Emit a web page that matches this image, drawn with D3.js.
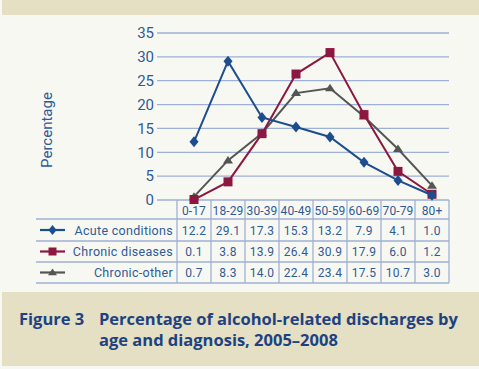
<!DOCTYPE html>
<html>
<head>
<meta charset="utf-8">
<script src="https://cdn.jsdelivr.net/npm/d3@7"></script>
<style>
  html, body { margin: 0; padding: 0; background: #f8f8f2; }
  svg { display: block; }
</style>
</head>
<body>
<svg id="chart" width="479" height="369"></svg>
<script>
// Age groups and the three diagnosis series (percent)
const ageGroups = ['0-17', '18-29', '30-39', '40-49', '50-59', '60-69', '70-79', '80+'];
const acute = [12.2, 29.1, 17.3, 15.3, 13.2, 7.9, 4.1, 1.0];
const chronicDiseases = [0.1, 3.8, 13.9, 26.4, 30.9, 17.9, 6.0, 1.2];
const chronicOther = [0.7, 8.3, 14.0, 22.4, 23.4, 17.5, 10.7, 3.0];
const yTicks = [0, 5, 10, 15, 20, 25, 30, 35];

const series = [
    { name: 'Acute conditions', values: acute, color: '#1c4d8f', marker: 'diamond' },
    { name: 'Chronic diseases', values: chronicDiseases, color: '#8c1741', marker: 'square' },
    { name: 'Chronic-other', values: chronicOther, color: '#555555', marker: 'triangle' }
];

const W = 479, H = 369;
const textBlue = '#2f5a98';
const lineBlue = '#9fb0d6';
const tableFont = 'Roboto, "DejaVu Sans", sans-serif';

const svg = d3.select('#chart');

// background bands
svg.append('rect').attr('x', 0).attr('y', 0).attr('width', W).attr('height', H).attr('fill', '#f8f8f2');
svg.append('rect').attr('x', 2).attr('y', 0).attr('width', W - 2).attr('height', 15).attr('fill', '#e5dfc3');
svg.append('rect').attr('x', 2).attr('y', 292).attr('width', W - 2).attr('height', 74).attr('fill', '#e5dfc3');

// scales
const x = d3.scaleBand().domain(ageGroups).range([177, 449]).padding(0);
const y = d3.scaleLinear().domain([0, 35]).range([200, 33]);
const gridLeft = 157;

// gridlines
svg.append('g')
    .selectAll('line')
    .data(yTicks)
    .enter()
    .append('line')
    .attr('x1', gridLeft)
    .attr('x2', 449)
    .attr('y1', d => y(d))
    .attr('y2', d => y(d))
    .attr('stroke', lineBlue)
    .attr('stroke-width', 1.3);

// y axis labels
const yAxis = d3.axisLeft(y).tickValues(yTicks).tickSize(0).tickPadding(0);
const yG = svg.append('g')
    .attr('transform', `translate(${gridLeft - 3},0)`)
    .call(yAxis);
yG.select('.domain').remove();
yG.selectAll('text')
    .attr('fill', textBlue)
    .style('font-size', '15px')
    .style('font-family', tableFont);

// y axis title
svg.append('text')
    .attr('transform', 'translate(52,130) rotate(-90)')
    .attr('text-anchor', 'middle')
    .attr('fill', textBlue)
    .style('font-family', tableFont)
    .style('font-size', '15px')
    .text('Percentage');

// data table
const rowTops = [219, 241, 262, 283];
const tableLeft = 36;
const table = svg.append('g');

rowTops.forEach(t => {
    table.append('line')
        .attr('x1', tableLeft).attr('x2', 449)
        .attr('y1', t).attr('y2', t)
        .attr('stroke', lineBlue).attr('stroke-width', 1.3);
});

const colEdges = ageGroups.map(g => x(g)).concat([x.range()[1]]);
table.selectAll('.vline')
    .data(colEdges)
    .enter()
    .append('line')
    .attr('class', 'vline')
    .attr('x1', d => d).attr('x2', d => d)
    .attr('y1', 200).attr('y2', 283)
    .attr('stroke', lineBlue).attr('stroke-width', 1.3);

function cellText(sel) {
    return sel.attr('fill', textBlue)
        .style('font-family', tableFont)
        .style('font-size', '12px')
        .style('letter-spacing', '0.3px');
}

// header
table.selectAll('.hdr')
    .data(ageGroups)
    .enter()
    .append('text')
    .attr('class', 'hdr')
    .attr('x', d => x(d) + x.bandwidth() / 2)
    .attr('y', 214.5)
    .attr('text-anchor', 'middle')
    .call(cellText)
    .style('letter-spacing', '0.1px')
    .text(d => d);

function drawMarker(g, type, cx, cy, color, s) {
    if (type === 'diamond') {
        g.append('path')
            .attr('d', `M${cx},${cy - s * 0.55}L${cx + s * 0.45},${cy}L${cx},${cy + s * 0.55}L${cx - s * 0.45},${cy}Z`)
            .attr('fill', color);
    } else if (type === 'square') {
        g.append('rect')
            .attr('x', cx - s / 2).attr('y', cy - s / 2)
            .attr('width', s).attr('height', s)
            .attr('fill', color);
    } else {
        g.append('path')
            .attr('d', `M${cx - s / 2},${cy + s * 0.3}L${cx},${cy - s * 0.45}L${cx + s / 2},${cy + s * 0.3}Z`)
            .attr('fill', color);
    }
}

series.forEach((s, i) => {
    const top = rowTops[i], bottom = rowTops[i + 1];
    const mid = (top + bottom) / 2;
    // legend sample
    table.append('line')
        .attr('x1', 40).attr('x2', 65)
        .attr('y1', mid).attr('y2', mid)
        .attr('stroke', s.color).attr('stroke-width', 2.2);
    drawMarker(table, s.marker, 52.5, mid, s.color, s.marker === 'square' ? 8 : 9);

    table.append('text')
        .attr('x', 173)
        .attr('y', mid + 4.5)
        .attr('text-anchor', 'end')
        .call(cellText)
        .style('font-size', '12.5px')
        .text(s.name);

    table.selectAll(null)
        .data(s.values)
        .enter()
        .append('text')
        .attr('x', (d, j) => x(ageGroups[j]) + x.bandwidth() / 2)
        .attr('y', mid + 4.5)
        .attr('text-anchor', 'middle')
        .call(cellText)
        .text(d => d.toFixed(1));
});

// lines and markers
const line = d3.line()
    .x((d, j) => x(ageGroups[j]) + x.bandwidth() / 2)
    .y(d => y(d));

// draw grey first, then red, then blue on top
[series[2], series[1], series[0]].forEach(s => {
    const g = svg.append('g');
    g.append('path')
        .datum(s.values)
        .attr('d', line)
        .attr('fill', 'none')
        .attr('stroke', s.color)
        .attr('stroke-width', 2);
    s.values.forEach((v, j) => {
        drawMarker(g, s.marker, x(ageGroups[j]) + x.bandwidth() / 2, y(v), s.color,
            s.marker === 'square' ? 9 : 10);
    });
});

// caption
const capFont = '"Open Sans", "Noto Sans", sans-serif';
function capText(sel) {
    return sel.attr('fill', '#1d4282')
        .style('font-family', capFont)
        .style('font-weight', 'bold')
        .style('font-size', '16.5px');
}
svg.append('text').attr('x', 19).attr('y', 325).call(capText).text('Figure 3');
svg.append('text').attr('x', 99).attr('y', 325).call(capText).text('Percentage of alcohol-related discharges by');
svg.append('text').attr('x', 99).attr('y', 346).call(capText).text('age and diagnosis, 2005–2008');
</script>
</body>
</html>
